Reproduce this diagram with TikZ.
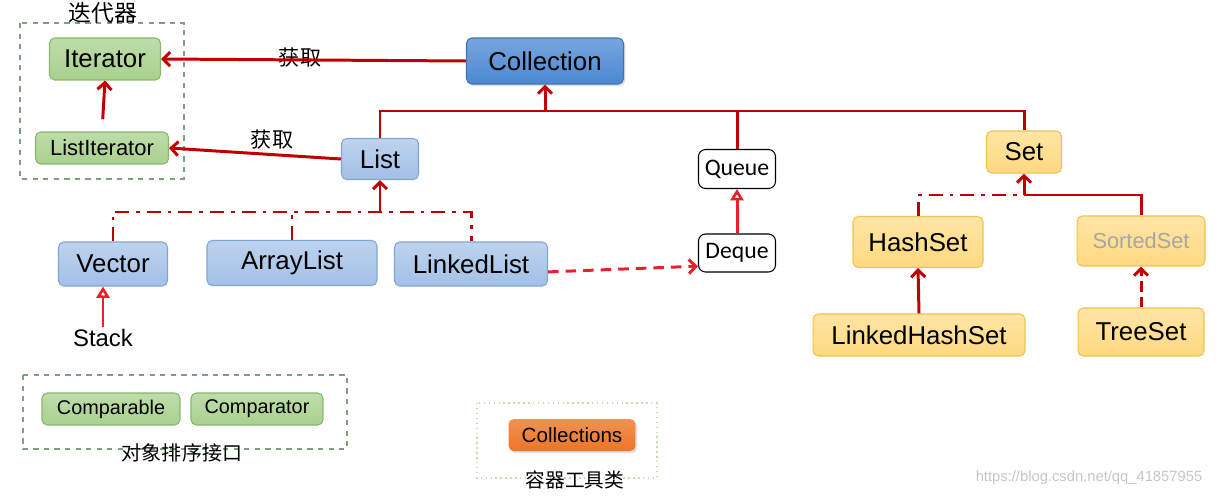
\documentclass[tikz,border=0pt]{standalone}
\usepackage{fontspec}
\setmainfont{Liberation Sans}
\newfontfamily\cjk{Noto Sans CJK SC}
\newfontfamily\calib{Carlito}
\usetikzlibrary{arrows.meta,shadows}
\definecolor{darkred}{HTML}{C00000}
\definecolor{brightred}{HTML}{E8202A}
\definecolor{greenfill}{HTML}{A9D18E}
\definecolor{greenline}{HTML}{86B76B}
\definecolor{bluefill}{HTML}{A2C0E6}
\definecolor{blueline}{HTML}{7FA5D6}
\definecolor{collfill}{HTML}{4A88D2}
\definecolor{collline}{HTML}{3E74B6}
\definecolor{orangefill}{HTML}{FFD97F}
\definecolor{orangeline}{HTML}{F2C24E}
\definecolor{toolfill}{HTML}{EE7526}
\definecolor{framegreen}{HTML}{7FA07F}
\begin{document}
\begin{tikzpicture}[x=0.02cm,y=-0.02cm,
	box/.style={rounded corners=3pt,inner sep=0pt,font=\fontsize{14.7}{16}\selectfont},
	greenbox/.style={box,top color=greenfill!75!white,bottom color=greenfill,draw=greenline,line width=0.6pt},
	bluebox/.style={box,top color=bluefill!70!white,bottom color=bluefill,draw=blueline,line width=0.6pt},
	orangebox/.style={box,top color=orangefill!70!white,bottom color=orangefill,draw=orangeline,line width=0.6pt},
	whitebox/.style={box,fill=white,draw=black,line width=0.6pt,rounded corners=4pt,font=\calib\fontsize{13.5}{15}\selectfont},
	softshadow/.style={drop shadow={opacity=0.25,shadow xshift=1pt,shadow yshift=-1.2pt}},
	darkline/.style={darkred,line width=1.7pt},
	redline/.style={brightred,line width=1.7pt},
	dashdot/.style={dash pattern=on 8pt off 4pt on 2pt off 4pt},
	barb/.style={-{Straight Barb[length=4pt,width=8pt]}},
	hollow/.style={-{Triangle[open,length=6.5pt,width=7.5pt,line width=1.5pt]}},
	cjklabel/.style={font=\cjk\fontsize{12}{14}\selectfont,inner sep=1pt}]
	\useasboundingbox (0,0) rectangle (1220,497);
	
	\draw[framegreen,dashed,line width=0.6pt] (20,23) rectangle (184,179);
	\draw[framegreen,dashed,line width=0.6pt] (23,375) rectangle (347,449);
	\draw[greenfill!70!white,dotted,line width=0.8pt] (477,403) rectangle (657,478);
	
	\node[greenbox,minimum width=2.22cm,minimum height=0.84cm] (itr) at (105,59) {Iterator};
	\node[greenbox,minimum width=2.66cm,minimum height=0.64cm,font=\fontsize{12.5}{14}\selectfont] (litr) at (102,148) {ListIterator};
	\node[box,top color=collfill!75!white,bottom color=collfill,draw=collline,line width=0.6pt,softshadow,minimum width=3.14cm,minimum height=0.92cm] (coll) at (545,61) {Collection};
	\node[bluebox,minimum width=1.54cm,minimum height=0.82cm] (list) at (380,159) {List};
	\node[whitebox,minimum width=1.54cm,minimum height=0.78cm] (queue) at (737,169) {Queue};
	\node[whitebox,minimum width=1.54cm,minimum height=0.76cm] (deque) at (737,253) {Deque};
	\node[orangebox,minimum width=1.5cm,minimum height=0.84cm] (set) at (1024,152) {Set};
	\node[orangebox,minimum width=2.6cm,minimum height=1.02cm] (hashset) at (918,242) {HashSet};
	\node[orangebox,minimum width=2.56cm,minimum height=1.0cm,text=gray!70,font=\fontsize{12.4}{14}\selectfont] (sortedset) at (1141,241) {SortedSet};
	\node[orangebox,minimum width=4.24cm,minimum height=0.84cm] (lhashset) at (919,335) {LinkedHashSet};
	\node[orangebox,minimum width=2.52cm,minimum height=0.96cm] (treeset) at (1141,332) {TreeSet};
	\node[bluebox,minimum width=2.18cm,minimum height=0.88cm] (vector) at (113,264) {Vector};
	\node[bluebox,minimum width=3.4cm,minimum height=0.9cm] (arraylist) at (292,263) {ArrayList};
	\node[bluebox,minimum width=3.06cm,minimum height=0.88cm] (linkedlist) at (471,264) {LinkedList};
	\node[inner sep=1pt,font=\fontsize{13.6}{15}\selectfont] (stack) at (103,338) {Stack};
	\node[greenbox,minimum width=2.76cm,minimum height=0.64cm,font=\fontsize{11.3}{13}\selectfont] (comparable) at (111,409) {Comparable};
	\node[greenbox,minimum width=2.64cm,minimum height=0.64cm,font=\fontsize{11.3}{13}\selectfont] (comparator) at (257,409) {Comparator};
	\node[box,top color=toolfill!80!white,bottom color=toolfill,softshadow,minimum width=2.54cm,minimum height=0.64cm,font=\fontsize{11.7}{13}\selectfont] (collections) at (572,435) {Collections};
	
	\node[cjklabel,font=\cjk\fontsize{13}{15}\selectfont] (itrtitle) at (103,13) {迭代器};
	\node[cjklabel,font=\cjk\fontsize{11.4}{13}\selectfont] (sorttitle) at (182,453) {对象排序接口};
	\node[cjklabel,font=\cjk\fontsize{11.2}{13}\selectfont] (tooltitle) at (575,480) {容器工具类};
	\node[cjklabel] (get1) at (300,58) {获取};
	\node[cjklabel] (get2) at (272,140) {获取};
	\node[text=gray!45,font=\fontsize{8.4}{10}\selectfont] (mark) at (1089,478) {https://blog.csdn.net/qq\_41857955};
	
	\coordinate (bus) at (0,111);
	\coordinate (lbus) at (0,212);
	\coordinate (sbus) at (0,195);
	
	\draw[darkline,barb] (coll.west) -- (itr.east);
	\draw[darkline,barb,shorten <=7pt] (litr.north) -- (itr.south);
	\draw[darkline,barb] (list.west) -- (litr.east);
	
	\draw[darkline] (list.north) -- (list.north |- bus) -- (set.north |- bus) -- (set.north);
	\draw[darkline,barb] (coll.south |- bus) -- (coll.south);
	\draw[darkline] (queue.north |- bus) -- (queue.north);
	\draw[redline,hollow] (deque.north) -- (queue.south);
	
	\draw[darkline,dashdot] (vector.north) -- (vector.north |- lbus) -- (linkedlist.north |- lbus) -- (linkedlist.north);
	\draw[darkline,dashdot] (arraylist.north) -- (arraylist.north |- lbus);
	\draw[darkline,barb] (list.south |- lbus) -- (list.south);
	\draw[redline,hollow] (stack.north) -- (stack.north |- vector.south);
	\draw[redline,dashed,dash pattern=on 6pt off 4pt,barb] ([yshift=-4.5pt]linkedlist.east) -- ([yshift=-7.5pt]deque.west);
	
	\draw[darkline,dashdot] (hashset.north) -- (hashset.north |- sbus) -- (set.south |- sbus);
	\draw[darkline] (sortedset.north) -- (sortedset.north |- sbus) -- (set.south |- sbus);
	\draw[darkline,barb] (set.south |- sbus) -- (set.south);
	\draw[darkline,barb] (lhashset.north) -- (hashset.south);
	\draw[darkline,dashed,dash pattern=on 6pt off 3pt,barb] (treeset.north) -- (sortedset.south);
\end{tikzpicture}
\end{document}
